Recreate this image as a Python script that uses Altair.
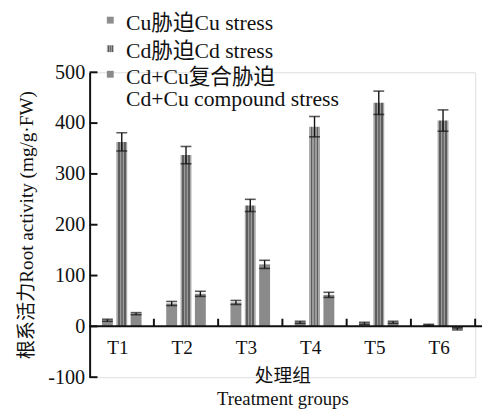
import altair as alt
import pandas as pd

# ---- data ----
groups = ["T1", "T2", "T3", "T4", "T5", "T6"]
series = ["Cu", "Cd", "CdCu"]
cu_vals = [12, 45, 47, 8, 6, 3]
cu_errs = [2, 4, 4, 2, 2, 1]
cd_vals = [363, 337, 238, 393, 440, 405]
cd_errs = [18, 17, 12, 20, 23, 21]
mix_vals = [25, 64, 122, 62, 8, -5]
mix_errs = [2, 5, 8, 5, 2, 2]
y_ticks = [-100, 0, 100, 200, 300, 400, 500]
legend_lines = ["Cu胁迫Cu stress", "Cd胁迫Cd stress", "Cd+Cu复合胁迫", "Cd+Cu compound stress"]
x_title = ["处理组", "Treatment groups"]
y_title = "根系活力Root activity (mg/g·FW)"

rows = []
for s, vals, errs in [("Cu", cu_vals, cu_errs), ("Cd", cd_vals, cd_errs), ("CdCu", mix_vals, mix_errs)]:
    for g, v, e in zip(groups, vals, errs):
        rows.append({"group": g, "series": s, "value": v, "lo": v - e, "hi": v + e})
df = pd.DataFrame(rows)
gdf = pd.DataFrame({"group": groups})
tdf = pd.DataFrame({"value": y_ticks})
one = pd.DataFrame({"k": [0]})

FONT = "'Liberation Serif', 'Noto Sans CJK SC'"
W, H = 392, 310

xscale = alt.Scale(domain=groups, paddingInner=0, paddingOuter=0)
xaxis = alt.Axis(title=x_title, labelAngle=0, domain=False, ticks=False, offset=-52,
                 labelFont=FONT, labelFontSize=19.5, labelColor="#111", labelPadding=13,
                 labelOffset=-4,
                 titleFont=FONT, titleFontSize=19, titleFontWeight="normal", titleColor="#111",
                 titleLineHeight=23, titlePadding=10)
yscale = alt.Scale(domain=[-100, 500], nice=False, zero=False)
yaxis = alt.Axis(values=y_ticks, title=y_title, ticks=False, tickSize=0, grid=False,
                 labelExpr="'' + datum.value",
                 domainColor="#111", domainWidth=2, labelFont=FONT, labelFontSize=20.5,
                 labelColor="#111", labelPadding=5, titleFont=FONT, titleFontSize=19.5,
                 titleFontWeight="normal", titleColor="#111", titlePadding=11)


def X(**kw):
    return alt.X("group:N", sort=groups, scale=xscale, axis=xaxis, **kw)


def XO():
    return alt.XOffset("series:N", sort=series,
                       scale=alt.Scale(domain=series, paddingInner=0.24, paddingOuter=0.86))


def Y(field):
    return alt.Y(field + ":Q", scale=yscale, axis=yaxis)


def stripes(stops):
    return {"gradient": "linear", "x1": 0, "y1": 0, "x2": 1, "y2": 0,
            "stops": [{"offset": o, "color": c} for o, c in stops]}


cd_fill = stripes([(0, "#a8a8a8"), (0.14, "#a8a8a8"), (0.14, "#5e5e5e"), (0.3, "#5e5e5e"),
                   (0.3, "#9a9a9a"), (0.42, "#9a9a9a"), (0.42, "#6e6e6e"), (0.58, "#6e6e6e"),
                   (0.58, "#9a9a9a"), (0.7, "#9a9a9a"), (0.7, "#5e5e5e"), (0.86, "#5e5e5e"),
                   (0.86, "#a8a8a8"), (1, "#a8a8a8")])
cu_fill = "#8e8e8e"
mix_fill = "#8a8a8a"

base = alt.Chart(df)


def bars(s, fill):
    return base.transform_filter(alt.datum.series == s).mark_bar(fill=fill).encode(
        x=X(), xOffset=XO(), y=Y("value"), y2=alt.datum(0))


err = base.mark_rule(color="#111", strokeWidth=1.4).encode(x=X(), xOffset=XO(), y=Y("lo"), y2="hi:Q")
cap_hi = base.mark_tick(color="#111", thickness=1.6, size=11, orient="horizontal").encode(
    x=X(), xOffset=XO(), y=Y("hi"))
cap_lo = base.mark_tick(color="#111", thickness=1.6, size=11, orient="horizontal").encode(
    x=X(), xOffset=XO(), y=Y("lo"))

zero_line = alt.Chart(one).mark_rule(color="#111", strokeWidth=2).encode(
    y=alt.datum(0), x=alt.value(0), x2=alt.value(W + 7))
xticks = alt.Chart(gdf).mark_rule(color="#111", strokeWidth=2).encode(
    x=X(bandPosition=1), y=alt.datum(0), y2=alt.datum(15))
yticks = alt.Chart(tdf).mark_rule(color="#111", strokeWidth=2).encode(
    y=Y("value"), x=alt.value(0), x2=alt.value(8))

# legend
leg = []
sq_fills = [cu_fill, cd_fill, mix_fill]
sq_y = [-53, -24, 2]
for f, yy in zip(sq_fills, sq_y):
    leg.append(alt.Chart(one).mark_square(size=49, fill=f, opacity=1).encode(
        x=alt.value(21), y=alt.value(yy)))
txt_y = [-50, -22, 5, 27]
for t, yy in zip(legend_lines, txt_y):
    leg.append(alt.Chart(one).mark_text(align="left", baseline="middle", font=FONT, fontSize=22,
                                        color="#111").encode(
        x=alt.value(37), y=alt.value(yy), text=alt.value(t)))

chart = alt.layer(
    bars("Cu", cu_fill), bars("Cd", cd_fill), bars("CdCu", mix_fill),
    err, cap_hi, cap_lo, zero_line, xticks, yticks, *leg
).properties(
    width=W, height=H,
    autosize=alt.AutoSizeParams(type="none"),
    padding={"left": 83, "top": 62, "right": 10, "bottom": 29},
).configure_view(strokeWidth=0).configure(background="white")

chart.save("out.html", embed_options={"renderer": "svg", "actions": False})
